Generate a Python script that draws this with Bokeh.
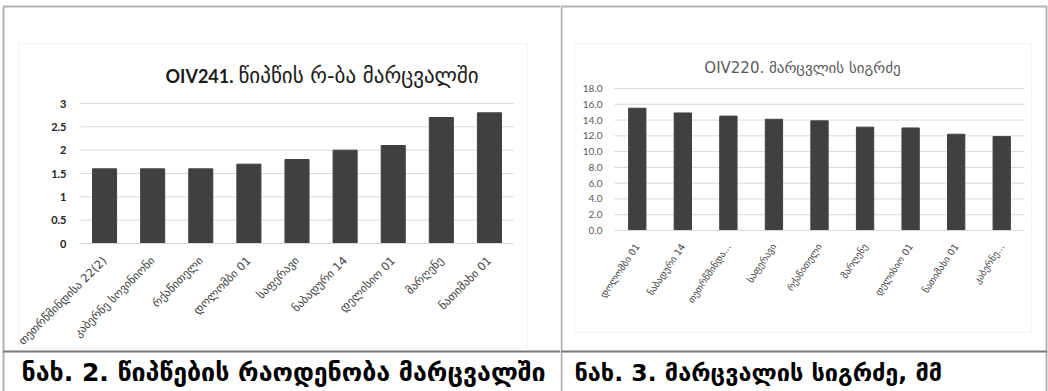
import math
from bokeh.plotting import figure
from bokeh.models import Range1d, FixedTicker, Label, BoxAnnotation, ColumnDataSource
from bokeh.layouts import row
from bokeh.embed import file_html
from bokeh.resources import INLINE

# ---------------- data ----------------
left_categories = ["თეთრწმინდისა 22(2)", "კაბერნე სოვინიონი", "რქაწითელი", "დოლომბი 01",
                   "საფერავი", "ნაბადური 14", "დელისიო 01", "მარღენე", "ნათიმახი 01"]
left_values = [1.6, 1.6, 1.6, 1.7, 1.8, 2.0, 2.1, 2.7, 2.8]
left_ticks = [0, 0.5, 1, 1.5, 2, 2.5, 3]
left_tick_labels = ["0", "0.5", "1", "1.5", "2", "2.5", "3"]

right_categories = ["დოლომბი 01", "ნაბადური 14", "თეთრწმინდა...", "საფერავი", "რქაწითელი",
                    "მარღენე", "დელისიო 01", "ნათიმახი 01", "კაბერნე..."]
right_values = [15.5, 14.9, 14.5, 14.1, 13.9, 13.1, 13.0, 12.2, 11.9]
right_ticks = [0, 2, 4, 6, 8, 10, 12, 14, 16, 18]
right_tick_labels = ["0.0", "2.0", "4.0", "6.0", "8.0", "10.0", "12.0", "14.0", "16.0", "18.0"]

left_title_bold = "OIV241."
left_title_rest = "წიპწის რ-ბა მარცვალში"
right_title = "OIV220. მარცვლის სიგრძე"
left_caption = "ნახ. 2. წიპწების რაოდენობა მარცვალში"
right_caption = "ნახ. 3. მარცვალის სიგრძე, მმ"

H = 391
LW, RW = 560, 488
GEO = "DejaVu Sans"
LAT = "Lato"
BAR = "#404040"
GRID = "#d9d9d9"


class Chart:
    """A figure whose frame is the whole canvas; the plot area is placed by range choice."""

    def __init__(self, width, cats, vals, ymax, fl, ft, fr, fb, bar_w):
        n = len(cats)
        self.W = width
        cw = (fr - fl) / n
        uh = (fb - ft) / ymax
        self.x0, self.x1 = -fl / cw, (width - fl) / cw
        self.y0, self.y1 = -(H - fb) / uh, fb / uh
        p = figure(width=width, height=H, x_range=Range1d(self.x0, self.x1),
                   y_range=Range1d(self.y0, self.y1), output_backend="svg",
                   toolbar_location=None, min_border=0, min_border_left=0,
                   min_border_right=0, min_border_top=0, min_border_bottom=0)
        p.outline_line_color = None
        p.background_fill_color = "white"
        p.border_fill_color = "white"
        p.xgrid.grid_line_color = None
        p.ygrid.grid_line_color = None
        self.p = p
        self.n = n
        self.ymax = ymax
        self.cats = cats
        centers = [i + 0.5 for i in range(n)]
        self.centers = centers
        self.src = ColumnDataSource(dict(x=centers, val=vals, cat=cats))
        self.bar_w = bar_w

    def X(self, px):
        return self.x0 + px * (self.x1 - self.x0) / self.W

    def Y(self, py):
        return self.y1 - py * (self.y1 - self.y0) / H

    def draw(self, ticks, tick_labels):
        p = self.p
        p.segment(x0=[0] * len(ticks), x1=[self.n] * len(ticks), y0=ticks, y1=ticks,
                  line_color=GRID, line_width=1)
        p.vbar(x="x", top="val", width=self.bar_w, source=self.src,
               fill_color=BAR, line_color=BAR)
        xa = p.xaxis[0]
        xa.fixed_location = 0
        xa.bounds = (0, self.n)
        xa.ticker = FixedTicker(ticks=self.centers)
        xa.major_label_overrides = dict(zip(self.centers, self.cats))
        xa.axis_line_color = GRID
        xa.major_tick_line_color = None
        xa.minor_tick_line_color = None
        ya = p.yaxis[0]
        ya.fixed_location = 0
        ya.bounds = (0, self.ymax)
        ya.ticker = FixedTicker(ticks=ticks)
        ya.major_label_overrides = dict(zip(ticks, tick_labels))
        ya.axis_line_color = None
        ya.major_tick_line_color = None
        ya.minor_tick_line_color = None
        return xa, ya

    def box(self, l, r, t, b, color, width):
        self.p.add_layout(BoxAnnotation(left=self.X(l), right=self.X(r), top=self.Y(t),
                                        bottom=self.Y(b), fill_color=None, fill_alpha=0,
                                        line_color=color, line_width=width, level="underlay"))

    def label(self, x, y, text, size, font, style="normal", color="black", align="left"):
        self.p.add_layout(Label(x=self.X(x), y=self.Y(y), text=text, text_font=font,
                                text_font_size=size, text_font_style=style,
                                text_color=color, text_align=align, text_baseline="middle"))


# ---------------- left chart ----------------
c1 = Chart(LW, left_categories, left_values, 3, 80, 103, 513, 243, 0.5)
xa, ya = c1.draw(left_ticks, left_tick_labels)
ya.major_label_text_font = LAT
ya.major_label_text_font_style = "bold"
ya.major_label_text_font_size = "11px"
ya.major_label_text_color = "#262626"
ya.major_label_standoff = 8
xa.major_label_orientation = math.pi / 4
xa.major_label_text_font = GEO
xa.major_label_text_font_size = "11.5px"
xa.major_label_text_color = "#404040"
xa.major_label_standoff = 9

c1.box(18, 527, 43, 348, GRID, 1)
c1.box(3, 575, 6, 351, "black", 2)
c1.box(3, 575, 351, 400, "black", 2)
c1.label(165, 75, left_title_bold, "18px", LAT, "bold", "#1a1a1a")
c1.label(238, 75, left_title_rest, "21px", GEO, "normal", "#1a1a1a")
c1.label(21, 372, left_caption, "25px", GEO, "bold", "black")

# ---------------- right chart ----------------
c2 = Chart(RW, right_categories, right_values, 18, 54, 88, 464, 230, 0.38)
xa2, ya2 = c2.draw(right_ticks, right_tick_labels)
ya2.major_label_text_font = LAT
ya2.major_label_text_font_size = "10px"
ya2.major_label_text_color = "#595959"
ya2.major_label_standoff = 6
xa2.major_label_orientation = math.radians(56)
xa2.major_label_text_font = GEO
xa2.major_label_text_font_size = "9.5px"
xa2.major_label_text_color = "#404040"
xa2.major_label_standoff = 8

c2.box(14, 471, 43, 332, GRID, 1)
c2.box(1, 486, 6, 351, "black", 2)
c2.box(1, 486, 351, 400, "black", 2)
c2.label(242, 67, right_title, "15px", GEO, "normal", "#595959", "center")
c2.label(14, 372, right_caption, "23.5px", GEO, "bold", "black")

layout = row(c1.p, c2.p)
open("out.html", "w").write(file_html(layout, INLINE))
